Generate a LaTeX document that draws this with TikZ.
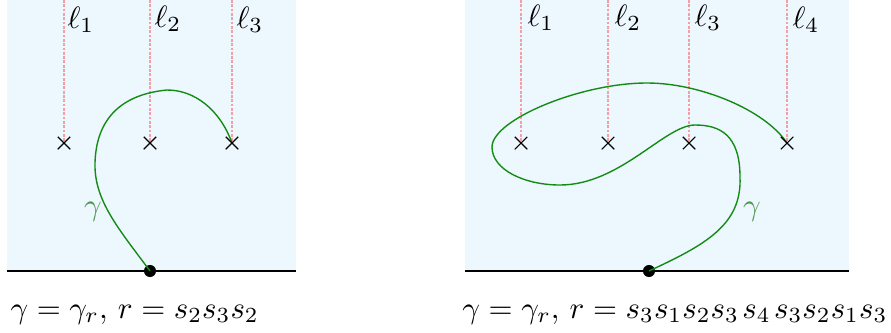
\documentclass[tikz,border=0pt]{standalone}
\usetikzlibrary{shapes.misc}
\definecolor{bgblue}{RGB}{237,247,254}
\definecolor{curvegreen}{RGB}{20,140,20}
\definecolor{labelgreen}{RGB}{80,150,80}
\definecolor{linepink}{RGB}{242,160,165}
\tikzset{
  bgpanel/.style={fill=bgblue, draw=none},
  ground/.style={draw=black, line width=0.7pt},
  wall/.style={draw=linepink, line width=0.4pt, dash pattern=on 0.9pt off 0.5pt},
  puncture/.style={cross out, draw=black, line width=0.35pt, inner sep=0pt, minimum size=3.7pt},
  basept/.style={circle, fill=black, inner sep=0pt, minimum size=3.9pt},
  pathg/.style={draw=curvegreen, line width=0.45pt},
  ell/.style={anchor=base west, inner sep=0pt},
  glabel/.style={text=labelgreen, inner sep=0pt},
  caption/.style={anchor=base west, inner sep=0pt}
}
\begin{document}
\begin{tikzpicture}[x=0.324pt, y=-0.324pt]
\useasboundingbox (0,0) rectangle (891,332);
% ---------- left panel ----------
\fill[bgpanel] (7,0) rectangle (296,271);
\coordinate (La) at (7,271);
\coordinate (Lb) at (296,271);
\draw[ground] (La) -- (Lb);
\coordinate (Lt1) at (64,0);
\coordinate (Lt2) at (150,0);
\coordinate (Lt3) at (232,0);
\coordinate (Lp1) at (64,143);
\coordinate (Lp2) at (150,143);
\coordinate (Lp3) at (232,143);
\draw[wall] (Lt1) -- (Lp1);
\draw[wall] (Lt2) -- (Lp2);
\draw[wall] (Lt3) -- (Lp3);
\node[ell] (Ll1) at (67,28) {$\ell_1$};
\node[ell] (Ll2) at (154,27) {$\ell_2$};
\node[ell] (Ll3) at (236,28) {$\ell_3$};
\node[basept] (Lo) at (150,271) {};
\draw[pathg] (Lo.center) .. controls (118,228) and (94,200) .. (95,163)
  .. controls (96,125) and (115,95) .. (167,90)
  .. controls (195,90) and (220,110) .. (Lp3);
\node[puncture] (Lx1) at (Lp1) {};
\node[puncture] (Lx2) at (Lp2) {};
\node[puncture] (Lx3) at (Lp3) {};
\node[glabel] (Lg) at (93,212) {$\gamma$};
\node[caption] (Lc) at (10,318) {$\gamma=\gamma_r,\, r=s_2s_3s_2$};
% ---------- right panel ----------
\fill[bgpanel] (465,0) rectangle (849,271);
\coordinate (Ra) at (465,271);
\coordinate (Rb) at (849,271);
\draw[ground] (Ra) -- (Rb);
\coordinate (Rt1) at (521,0);
\coordinate (Rt2) at (608,0);
\coordinate (Rt3) at (689,0);
\coordinate (Rt4) at (787,0);
\coordinate (Rp1) at (521,143);
\coordinate (Rp2) at (608,143);
\coordinate (Rp3) at (689,143);
\coordinate (Rp4) at (787,143);
\draw[wall] (Rt1) -- (Rp1);
\draw[wall] (Rt2) -- (Rp2);
\draw[wall] (Rt3) -- (Rp3);
\draw[wall] (Rt4) -- (Rp4);
\node[ell] (Rl1) at (527,26) {$\ell_1$};
\node[ell] (Rl2) at (614,26) {$\ell_2$};
\node[ell] (Rl3) at (694,26) {$\ell_3$};
\node[ell] (Rl4) at (792,28) {$\ell_4$};
\node[basept] (Ro) at (649,271) {};
\draw[pathg] (Ro.center) .. controls (705,245) and (742,225) .. (740,177)
  .. controls (740,135) and (720,125) .. (695,125)
  .. controls (665,125) and (620,185) .. (560,185)
  .. controls (525,185) and (492,170) .. (492,147)
  .. controls (492,120) and (580,83) .. (647,83)
  .. controls (700,83) and (765,110) .. (Rp4);
\node[puncture] (Rx1) at (Rp1) {};
\node[puncture] (Rx2) at (Rp2) {};
\node[puncture] (Rx3) at (Rp3) {};
\node[puncture] (Rx4) at (Rp4) {};
\node[glabel] (Rg) at (752,212) {$\gamma$};
\node[caption, anchor=base east] (Rc) at (888,318) {$\gamma=\gamma_r,\, r=s_3s_1s_2s_3\mkern2mu s_4\mkern2mu s_3s_2s_1s_3$};
\end{tikzpicture}
\end{document}
